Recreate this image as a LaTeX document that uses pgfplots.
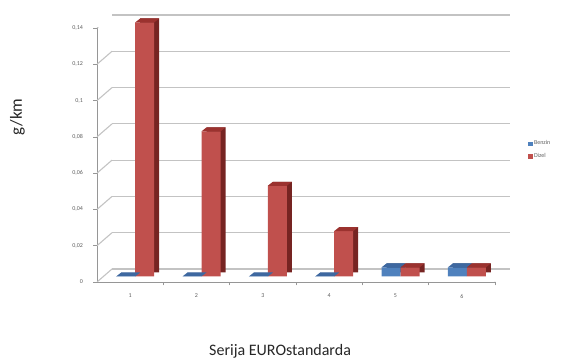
\documentclass[border=0pt]{standalone}
\usepackage{fontspec}
\setmainfont{Carlito}
\usepackage{pgfplots}
\pgfplotsset{compat=1.18}
\usepackage{pgfplotstable}

\definecolor{gridgray}{RGB}{195,195,195}
\definecolor{axisgray}{RGB}{150,150,150}
\definecolor{ticktext}{RGB}{95,95,95}
\definecolor{bfront}{RGB}{79,129,189}
\definecolor{btop}{RGB}{62,104,160}
\definecolor{bside}{RGB}{38,70,115}
\definecolor{dfront}{RGB}{192,80,77}
\definecolor{dtop}{RGB}{155,50,47}
\definecolor{dside}{RGB}{118,36,34}

% top faces of the boxes: parallelograms left and right of the category centre
\pgfdeclareplotmark{topleft}{%
  \pgfpathmoveto{\pgfqpoint{-19pt}{0pt}}%
  \pgfpathlineto{\pgfqpoint{0pt}{0pt}}%
  \pgfpathlineto{\pgfqpoint{5pt}{4pt}}%
  \pgfpathlineto{\pgfqpoint{-14pt}{4pt}}%
  \pgfpathclose\pgfusepathqfill}
\pgfdeclareplotmark{topright}{%
  \pgfpathmoveto{\pgfqpoint{0pt}{0pt}}%
  \pgfpathlineto{\pgfqpoint{19pt}{0pt}}%
  \pgfpathlineto{\pgfqpoint{24pt}{4pt}}%
  \pgfpathlineto{\pgfqpoint{5pt}{4pt}}%
  \pgfpathclose\pgfusepathqfill}

% PM emission limits per EURO standard (g/km)
\pgfplotstableread{
x benzin dizel
1 0     0.14
2 0     0.08
3 0     0.05
4 0     0.025
5 0.005 0.005
6 0.005 0.005
}\euro

\pgfplotsset{
  common/.style={
    scale only axis, width=398pt, height=254pt,
    xmin=0.5, xmax=6.5, ymin=0, ymax=0.14,
    anchor=south west,
  },
}

\begin{document}
\begin{tikzpicture}[x=1pt,y=1pt]
\useasboundingbox (0,0) rectangle (563,361);

% back wall with the horizontal grid
\begin{axis}[common, at={(112pt,92pt)},
  axis line style={draw=none},
  xtick=\empty,
  ytick={0,0.02,0.04,0.06,0.08,0.1,0.12,0.14},
  yticklabels={},
  major tick length=0pt,
  ymajorgrids, grid style={gridgray, line width=1.1pt},
]
\end{axis}

% bars, set halfway into the depth of the floor
\begin{axis}[common, at={(102pt,84.5pt)}, hide axis, bar width=19pt, clip=false]
\addplot[ybar, bar shift=-9.5pt, fill=bside, draw=none, xshift=5pt, yshift=4pt] table[x=x,y=benzin] {\euro};
\addplot[ybar, bar shift=-9.5pt, fill=bfront, draw=none] table[x=x,y=benzin] {\euro};
\addplot[only marks, mark=topleft, mark options={fill=btop, draw=none}] table[x=x,y=benzin] {\euro};
\addplot[ybar, bar shift=9.5pt, fill=dside, draw=none, xshift=5pt, yshift=4pt] table[x=x,y=dizel] {\euro};
\addplot[ybar, bar shift=9.5pt, fill=dfront, draw=none] table[x=x,y=dizel] {\euro};
\addplot[only marks, mark=topright, mark options={fill=dtop, draw=none}] table[x=x,y=dizel] {\euro};
\end{axis}

% front edges, ticks, labels and legend
\begin{axis}[common, at={(97pt,79pt)},
  axis x line*=bottom, axis y line*=left,
  axis line style={draw=axisgray, line width=0.8pt},
  tick style={draw=axisgray, line width=0.7pt},
  tick align=outside,
  xtick={1,2,3,4,5,6},
  major x tick style={draw=none},
  minor xtick={1.5,2.5,3.5,4.5,5.5,6.5},
  minor tick length=3.5pt,
  ytick={0,0.02,0.04,0.06,0.08,0.1,0.12,0.14},
  major tick length=3.5pt,
  /pgf/number format/.cd, use comma, fixed, assume math mode=true,
  /pgfplots/.cd,
  ticklabel style={font=\fontsize{6}{7}\selectfont, text=ticktext},
  yticklabel style={xshift=-7pt},
  xticklabel style={yshift=-5pt},
  ylabel={g/km},
  ylabel style={at={(axis description cs:-0.2,0.65)}, anchor=center,
    font=\fontsize{17}{19}\selectfont, text=black!85},
  xlabel={Serija EUROstandarda},
  xlabel style={at={(axis description cs:0.46,-0.272)}, anchor=center,
    font=\fontsize{16}{18}\selectfont, text=black!85},
  legend style={at={(axis description cs:1.08,0.52)}, anchor=west,
    draw=none, fill=none, font=\fontsize{6}{7}\selectfont,
    text=ticktext, inner sep=1pt, row sep=3pt,
    cells={anchor=west}},
  legend image code/.code={\fill[#1] (0pt,-1.8pt) rectangle (3.6pt,1.8pt);},
]
\addlegendimage{bfront}
\addlegendentry{Benzin}
\addlegendimage{dfront}
\addlegendentry{Dizel}
% depth edges joining the front to the back wall
\pgfplotsinvokeforeach{0,0.02,0.04,0.06,0.08,0.1,0.12,0.14}{
  \draw[gridgray, line width=1.1pt] (axis cs:0.5,#1) -- ++(15pt,13pt);
}
\draw[gridgray, line width=1.1pt] (axis cs:6.5,0) -- ++(15pt,13pt);
\end{axis}
\end{tikzpicture}
\end{document}
